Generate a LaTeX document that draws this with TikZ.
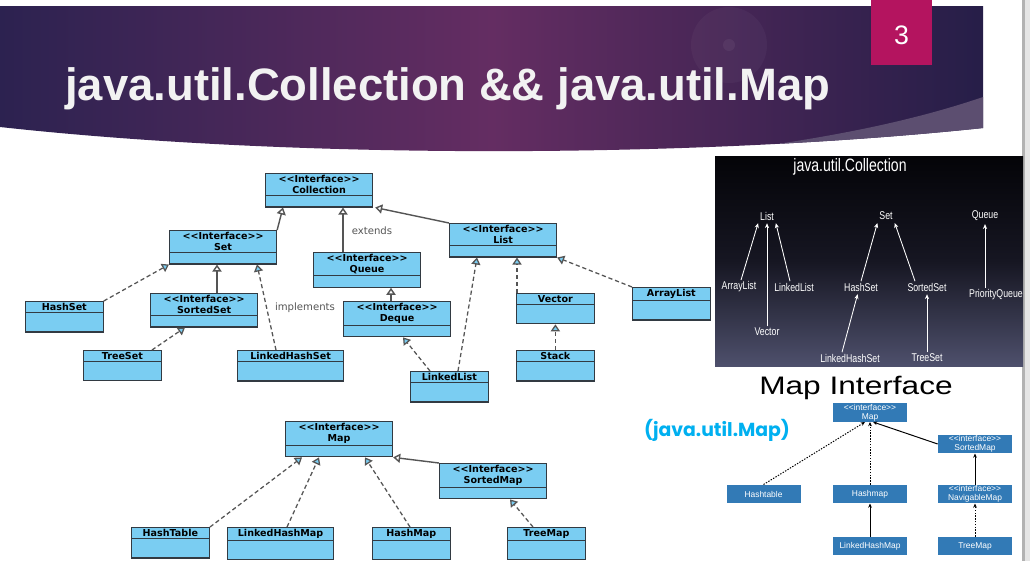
\documentclass[tikz,border=0pt]{standalone}
\usepackage{fontspec}
\setmainfont{Liberation Sans}
\newfontfamily\umlfont{DejaVu Sans}
\newfontfamily\mapfont{Liberation Sans}
\newfontfamily\panelfont[FakeStretch=0.78]{Liberation Sans}
\newfontfamily\wideface[FakeStretch=1.25]{Liberation Sans}
\newfontfamily\roundfont{Poppins}
\usetikzlibrary{shapes.multipart,arrows.meta,calc}

\definecolor{umlblue}{RGB}{122,205,242}
\definecolor{umledge}{RGB}{50,58,66}
\definecolor{umlline}{RGB}{85,85,85}
\definecolor{hdark}{RGB}{44,34,80}
\definecolor{hmid}{RGB}{100,45,98}
\definecolor{hright}{RGB}{38,30,72}
\definecolor{hlight}{RGB}{92,78,112}
\definecolor{slidepink}{RGB}{180,20,95}
\definecolor{mapblue}{RGB}{50,122,182}
\definecolor{javacyan}{RGB}{0,176,240}
\definecolor{paneltop}{RGB}{4,4,8}
\definecolor{panelmid}{RGB}{22,22,34}
\definecolor{panelbot}{RGB}{78,80,108}

\begin{document}
\begin{tikzpicture}[x=0.025cm,y=-0.025cm,
  uml/.style={rectangle split, rectangle split parts=2, draw=umledge, line width=0.8pt,
    fill=umlblue, anchor=north west, inner xsep=0pt, inner ysep=1pt, align=center,
    font=\umlfont\bfseries\fontsize{6.8}{7.6}\selectfont},
  iface/.style={uml, minimum width=2.675cm, rectangle split empty part height=4pt},
  cls/.style={uml, minimum width=#1, rectangle split empty part height=10.8pt},
  cls/.default=1.94cm,
  ext/.style={draw=umlline, line width=1pt, -{Triangle[length=5pt,width=6.5pt,fill=white]}},
  impl/.style={draw=umlline, line width=0.9pt, dash pattern=on 3pt off 2pt,
    -{Triangle[length=5pt,width=6.5pt,fill=umlblue]}},
  note/.style={text=umlline, font=\umlfont\fontsize{7.2}{8}\selectfont},
  pname/.style={text=white, inner sep=1pt, font=\panelfont\fontsize{8}{9}\selectfont},
  parrow/.style={draw=white, line width=0.6pt, -{Stealth[length=3.5pt,width=3pt]}, shorten >=1pt},
  mbox/.style={fill=mapblue, text=white, minimum width=1.85cm, minimum height=0.46cm,
    inner sep=0pt, align=center, font=\mapfont\fontsize{6}{6.6}\selectfont},
  marrow/.style={draw=black, line width=0.7pt, -{Stealth[length=3pt,width=2.6pt]}},
  mdot/.style={dash pattern=on 1pt off 1pt},
]
\fill[white] (0,0) rectangle (1030,561);
\useasboundingbox (0,0) rectangle (1030,561);

\shade[left color=hdark, right color=hright, middle color=hmid]
  (0,6) -- (983,6) -- (983,128) .. controls (700,158) and (300,160) .. (0,127) -- cycle;
\begin{scope}
  \clip (0,6) -- (983,6) -- (983,128) .. controls (700,158) and (300,160) .. (0,127) -- cycle;
  \fill[hlight] (983,97) .. controls (880,132) and (760,150) .. (560,170) -- (983,170) -- cycle;
  \fill[white, opacity=0.035] (729,45) circle (38);
  \fill[white, opacity=0.05] (729,45) circle (6);
\end{scope}
\fill[slidepink] (871,0) rectangle (932,65);
\node[text=white, font=\fontsize{19}{22}\selectfont] (slideno) at (901.5,35) {3};
\node[anchor=base west, text=white!95!black, inner sep=0pt,
  font=\bfseries\fontsize{32.3}{36}\selectfont] (title) at (65,100) {java.util.Collection \&\& java.util.Map};
\fill[black!30] (1022,0) rectangle (1025,561);
\fill[black!10] (1025,0) rectangle (1030,561);

\node[iface] (coll) at (265,173) {<<Interface>>\\Collection \nodepart{second}};
\node[iface] (set) at (169,230) {<<Interface>>\\Set \nodepart{second}};
\node[iface] (queue) at (313,252) {<<Interface>>\\Queue \nodepart{second}};
\node[iface] (list) at (449,223) {<<Interface>>\\List \nodepart{second}};
\node[iface] (sortedset) at (150,293) {<<Interface>>\\SortedSet \nodepart{second}};
\node[iface] (deque) at (343,301) {<<Interface>>\\Deque \nodepart{second}};
\node[cls] (hashset) at (25,301) {HashSet \nodepart{second}};
\node[cls] (treeset) at (83,350) {TreeSet \nodepart{second}};
\node[cls=2.65cm] (lhset) at (237,350) {LinkedHashSet \nodepart{second}};
\node[cls] (linkedlist) at (410,371) {LinkedList \nodepart{second}};
\node[cls] (vector) at (516,293) {Vector \nodepart{second}};
\node[cls] (stack) at (516,350) {Stack \nodepart{second}};
\node[cls] (arraylist) at (632,287) {ArrayList \nodepart{second}};
\node[note] (extends) at (372,231) {extends};
\node[note] (implements) at (305,308) {implements};

\draw[ext] (set.north east) -- ($(coll.south west)+(18,0)$);
\draw[ext] ($(queue.north west)+(30,0)$) -- ($(coll.south west)+(78,0)$);
\draw[ext] (list.north west) -- ($(coll.south east)+(2,0)$);
\draw[impl] (hashset.north east) -- (set.south west);
\draw[ext] ($(sortedset.north west)+(67,0)$) -- ($(set.south west)+(48,0)$);
\draw[impl] ($(lhset.north west)+(39,0)$) -- ($(set.south west)+(88,0)$);
\draw[impl] ($(treeset.north west)+(69,0)$) -- ($(sortedset.south west)+(35,0)$);
\draw[ext] ($(deque.north west)+(48,0)$) -- ($(queue.south west)+(78,0)$);
\draw[impl] ($(linkedlist.north west)+(20,0)$) -- ($(deque.south west)+(60,0)$);
\draw[impl] ($(linkedlist.north west)+(48,0)$) -- ($(list.south west)+(28,0)$);
\draw[impl] ($(vector.north west)+(1,0)$) -- ($(list.south west)+(68,0)$);
\draw[impl] (stack.north) -- (vector.south);
\draw[impl] (arraylist.north west) -- (list.south east);

\node[iface] (map) at (285,421) {<<Interface>>\\Map \nodepart{second}};
\node[iface] (sortedmap) at (439,463) {<<Interface>>\\SortedMap \nodepart{second}};
\node[cls] (hashtable) at (131,527) {HashTable \nodepart{second}};
\node[cls=2.65cm] (lhmap) at (227,527) {LinkedHashMap \nodepart{second}};
\node[cls] (hashmap) at (372,527) {HashMap \nodepart{second}};
\node[cls] (treemap) at (507,527) {TreeMap \nodepart{second}};
\draw[impl] ($(hashtable.north west)+(79,0)$) -- ($(map.south west)+(17,0)$);
\draw[impl] ($(lhmap.north west)+(60,0)$) -- ($(map.south west)+(34,0)$);
\draw[impl] ($(hashmap.north west)+(38,0)$) -- ($(map.south west)+(80,0)$);
\draw[ext] (sortedmap.north west) -- (map.south east);
\draw[impl] ($(treemap.north west)+(26,0)$) -- ($(sortedmap.south west)+(71,0)$);

\shade[top color=paneltop, bottom color=panelbot, middle color=panelmid] (715,156) rectangle (1023,366);
\node[pname, font=\panelfont\fontsize{12.8}{14}\selectfont] (ptitle) at (850,167) {java.util.Collection};
\node[pname] (plist) at (767,216) {List};
\node[pname] (pset) at (886,216) {Set};
\node[pname] (pqueue) at (985,216) {Queue};
\node[pname] (parray) at (739,287) {ArrayList};
\node[pname] (plinked) at (794,287) {LinkedList};
\node[pname] (pvector) at (767,332) {Vector};
\node[pname] (phash) at (861,287) {HashSet};
\node[pname] (psorted) at (927,287) {SortedSet};
\node[pname] (ppq) at (996,295) {PriorityQueue};
\node[pname] (plhs) at (850,358) {LinkedHashSet};
\node[pname] (ptree) at (927,358) {TreeSet};
\draw[parrow] ($(parray.north)+(2,0)$) -- (plist.south west);
\draw[parrow] (pvector.north) -- (plist.south);
\draw[parrow] ($(plinked.north)+(-4,0)$) -- (plist.south east);
\draw[parrow] (phash.north) -- (pset.south west);
\draw[parrow] ($(psorted.north)+(-12,0)$) -- (pset.south east);
\draw[parrow] ($(ppq.north)+(-11,0)$) -- (pqueue.south);
\draw[parrow] ($(plhs.north)+(-8,0)$) -- ($(phash.south)+(-3,0)$);
\draw[parrow] (ptree.north) -- (psorted.south);

\node[font=\wideface\fontsize{18}{20}\selectfont] (mtitle) at (856,388) {Map Interface};
\node[text=javacyan, font=\roundfont\bfseries\fontsize{13.4}{16}\selectfont] (mjava) at (717,430) {(java.util.Map)};
\node[mbox] (mmap) at (870,412.5) {<<interface>>\\Map};
\node[mbox] (msorted) at (975,444) {<<interface>>\\SortedMap};
\node[mbox] (mtable) at (763.5,494) {Hashtable};
\node[mbox] (mhash) at (870,494) {Hashmap};
\node[mbox] (mnav) at (975,494) {<<interface>>\\NavigableMap};
\node[mbox] (mlhm) at (870,546) {LinkedHashMap};
\node[mbox] (mtree) at (975,546) {TreeMap};
\draw[marrow, mdot] (mtable.north) -- ($(mmap.south)+(-5,0)$);
\draw[marrow, mdot] (mhash.north) -- (mmap.south);
\draw[marrow] (msorted.west) -- ($(mmap.south)+(3,0)$);
\draw[marrow] (mnav.north) -- (msorted.south);
\draw[marrow] (mlhm.north) -- (mhash.south);
\draw[marrow, mdot] (mtree.north) -- (mnav.south);
\end{tikzpicture}
\end{document}
